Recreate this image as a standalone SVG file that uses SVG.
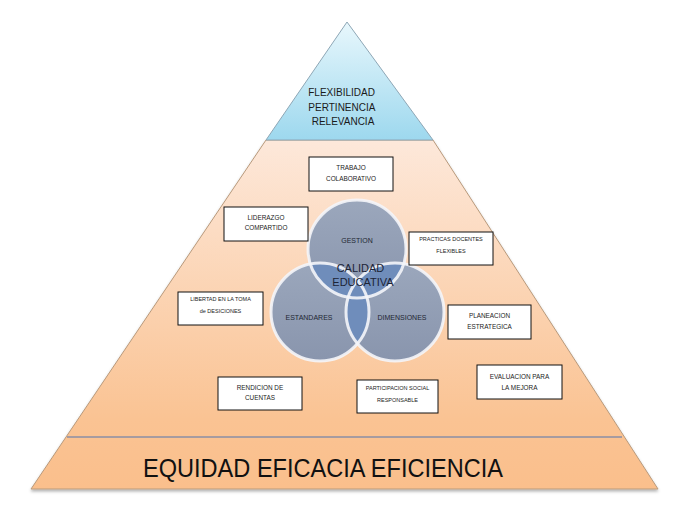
<svg xmlns="http://www.w3.org/2000/svg" width="685" height="525" viewBox="0 0 685 525">
<style>
.box{fill:#ffffff;stroke:#111111;stroke-width:1}
.bt{font-family:"Liberation Sans",Arial,sans-serif;font-size:6.4px;fill:#222222;text-anchor:middle}
.sm{font-size:5.5px}
.ct{font-family:"Liberation Sans",Arial,sans-serif;font-size:7px;fill:#222733;text-anchor:middle}
.circ{fill:url(#gCirc)}
.ov{fill:#6f8dbb}
.ring{fill:none;stroke:#f4f5f9;stroke-width:3;stroke-opacity:0.9}
</style>
<defs>
<linearGradient id="gPeach" x1="0" y1="0" x2="0" y2="1">
<stop offset="0" stop-color="#fde8da"/>
<stop offset="0.8" stop-color="#fac393"/>
<stop offset="1" stop-color="#fabf8c"/>
</linearGradient>
<linearGradient id="gBlue" x1="0" y1="0" x2="0" y2="1">
<stop offset="0" stop-color="#e8f7fc"/>
<stop offset="1" stop-color="#9dd8ee"/>
</linearGradient>
<linearGradient id="gCirc" x1="0" y1="0" x2="0" y2="1">
<stop offset="0" stop-color="#9ba7bc"/>
<stop offset="1" stop-color="#8995ad"/>
</linearGradient>
<filter id="sh" x="-5%" y="-5%" width="110%" height="115%">
<feDropShadow dx="0" dy="2" stdDeviation="1.5" flood-color="#000000" flood-opacity="0.3"/>
</filter>
<clipPath id="cA"><circle cx="357" cy="249" r="49"/></clipPath>
<clipPath id="cB"><circle cx="320" cy="312" r="49"/></clipPath>
</defs>
<rect width="685" height="525" fill="#ffffff"/>
<g id="base">
<polygon points="266,140 433,140 658,489 31,489" fill="url(#gPeach)" stroke="#b99a7c" stroke-width="1" filter="url(#sh)"/>
<line x1="67" y1="437" x2="622" y2="437" stroke="#8a8ea6" stroke-width="1.5"/>
<text x="323" y="477" font-family="'Liberation Sans',Arial,sans-serif" font-size="26.5" fill="#111111" text-anchor="middle" textLength="360" lengthAdjust="spacingAndGlyphs">EQUIDAD EFICACIA EFICIENCIA</text>
</g>
<g id="top">
<polygon points="347,22 266,140 433,140" fill="url(#gBlue)" stroke="#8ea7b6" stroke-width="1"/>
<text font-family="'Liberation Sans',Arial,sans-serif" font-size="10" fill="#1a1a1a" text-anchor="middle">
<tspan x="343" y="96">FLEXIBILIDAD</tspan>
<tspan x="343" y="110.5">PERTINENCIA</tspan>
<tspan x="343" y="125">RELEVANCIA</tspan>
</text>
</g>
<g id="venn">
<g id="gestion"><circle class="circ" cx="357" cy="249" r="49"/></g>
<g id="estandares"><circle class="circ" cx="320" cy="312" r="49"/></g>
<g id="dimensiones"><circle class="circ" cx="395" cy="312" r="49"/></g>
<circle class="ov" cx="320" cy="312" r="49" clip-path="url(#cA)"/>
<circle class="ov" cx="395" cy="312" r="49" clip-path="url(#cA)"/>
<circle class="ov" cx="395" cy="312" r="49" clip-path="url(#cB)"/>
<circle class="ring" cx="357" cy="249" r="49"/>
<circle class="ring" cx="320" cy="312" r="49"/>
<circle class="ring" cx="395" cy="312" r="49"/>
<text class="ct" x="357" y="243">GESTION</text>
<text class="ct" x="309" y="320">ESTANDARES</text>
<text class="ct" x="402" y="320">DIMENSIONES</text>
<text font-family="'Liberation Sans',Arial,sans-serif" font-size="11" fill="#1c2436" text-anchor="middle">
<tspan x="362" y="272">CALIDAD</tspan>
<tspan x="363" y="286">EDUCATIVA</tspan>
</text>
</g>
<g id="trabajo">
<rect class="box" x="309" y="157" width="84" height="34"/>
<text class="bt"><tspan x="351" y="169.5">TRABAJO</tspan><tspan x="351" y="180.5">COLABORATIVO</tspan></text>
</g>
<g id="liderazgo">
<rect class="box" x="224" y="207" width="84" height="34"/>
<text class="bt"><tspan x="266" y="219.5">LIDERAZGO</tspan><tspan x="266" y="230">COMPARTIDO</tspan></text>
</g>
<g id="practicas">
<rect class="box" x="409" y="232" width="84" height="33"/>
<text class="bt sm"><tspan x="451" y="241">PRACTICAS DOCENTES</tspan><tspan x="451" y="253">FLEXIBLES</tspan></text>
</g>
<g id="libertad">
<rect class="box" x="178" y="292" width="85" height="33"/>
<text class="bt sm"><tspan x="220.5" y="301">LIBERTAD EN LA TOMA</tspan><tspan x="220.5" y="313">de DESICIONES</tspan></text>
</g>
<g id="planeacion">
<rect class="box" x="448" y="305" width="83" height="34"/>
<text class="bt"><tspan x="489.5" y="318">PLANEACION</tspan><tspan x="489.5" y="329">ESTRATEGICA</tspan></text>
</g>
<g id="evaluacion">
<rect class="box" x="477" y="365" width="85" height="34"/>
<text class="bt"><tspan x="519.5" y="378.5">EVALUACION PARA</tspan><tspan x="519.5" y="389.5">LA MEJORA</tspan></text>
</g>
<g id="rendicion">
<rect class="box" x="218" y="377" width="84" height="33"/>
<text class="bt"><tspan x="260" y="390">RENDICION  DE</tspan><tspan x="260" y="400">CUENTAS</tspan></text>
</g>
<g id="participacion">
<rect class="box" x="357" y="380" width="81" height="33"/>
<text class="bt sm"><tspan x="397.5" y="390">PARTICIPACION SOCIAL</tspan><tspan x="397.5" y="402">RESPONSABLE</tspan></text>
</g>
</svg>
